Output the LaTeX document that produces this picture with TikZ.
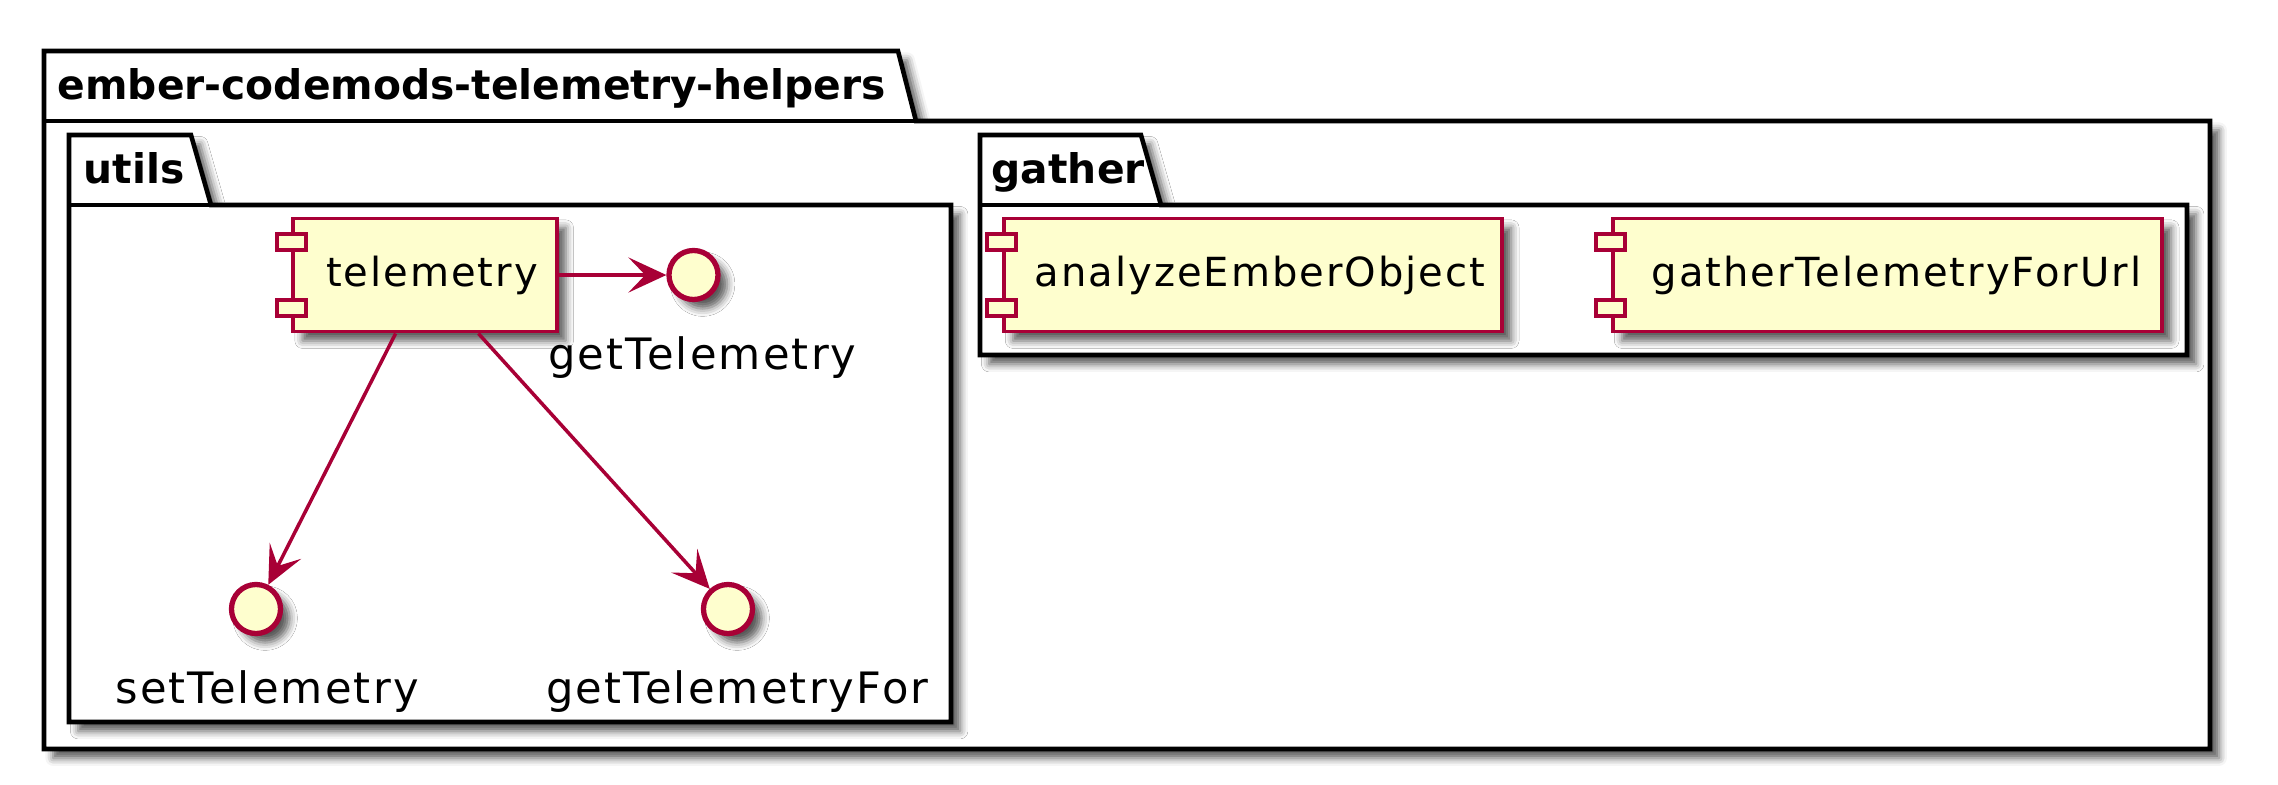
\documentclass[tikz,border=0pt]{standalone}
\usepackage{fontspec}
\setmainfont{DejaVu Sans}
\newfontfamily\uifont[LetterSpace=5]{DejaVu Sans}
\usetikzlibrary{arrows.meta,shadows.blur,calc}
\definecolor{umlred}{HTML}{A80036}
\definecolor{umlfill}{HTML}{FEFECE}
\tikzset{
  shd/.style={blur shadow={shadow xshift=2.6pt,shadow yshift=-2.6pt,shadow blur radius=2.2pt,shadow opacity=65}},
  pkg/.style={draw=black,line width=1.3pt,fill=white,shd,line join=miter},
  pkgline/.style={draw=black,line width=1.3pt},
  pkgtitle/.style={font=\bfseries\fontsize{11.6}{13}\selectfont,anchor=base west,inner sep=0pt},
  comp/.style={draw=umlred,fill=umlfill,line width=1.1pt,shd,minimum height=1.13cm,inner sep=0pt,font=\uifont\fontsize{11.4}{14}\selectfont},
  port/.style={draw=umlred,fill=umlfill,line width=1.1pt},
  iface/.style={circle,draw=umlred,fill=umlfill,line width=1.5pt,minimum size=0.49cm,inner sep=0pt,shd},
  ilabel/.style={font=\uifont\fontsize{12.3}{15}\selectfont,anchor=base,inner sep=0pt},
  dep/.style={draw=umlred,line width=1pt,-{Stealth[length=10.8pt,width=10pt,inset=4.8pt]}},
}
\begin{document}
\begin{tikzpicture}[x=0.01cm,y=-0.01cm]
\useasboundingbox (0,0) rectangle (2278,784);
% outer package
\path[pkg] (44,51) -- (898,51) -- (916,121) -- (2210,121) -- (2210,749) -- (44,749) -- cycle;
\draw[pkgline] (44,121) -- (916,121);
\node[pkgtitle] (outerT) at (57,99) {ember-codemods-telemetry-helpers};
% utils package
\path[pkg] (69,135) -- (191,135) -- (211,205) -- (951,205) -- (951,722) -- (69,722) -- cycle;
\draw[pkgline] (69,205) -- (211,205);
\node[pkgtitle] (utilsT) at (83,183) {utils};
% gather package
\path[pkg] (980,135) -- (1141,135) -- (1161,205) -- (2187,205) -- (2187,355) -- (980,355) -- cycle;
\draw[pkgline] (980,205) -- (1161,205);
\node[pkgtitle] (gatherT) at (991,183) {gather};
% components
\node[comp,minimum width=2.63cm] (tel) at (425,275) {\hspace*{0.14cm}telemetry};
\node[comp,minimum width=4.98cm] (ana) at (1253,275) {\hspace*{0.14cm}analyzeEmberObject};
\node[comp,minimum width=5.49cm] (gat) at (1887.5,275) {\hspace*{0.18cm}gatherTelemetryForUrl};
\foreach \c in {tel,ana,gat}{
  \draw[port] ($(\c.west)+(-14.5,-41)$) rectangle ($(\c.west)+(14.5,-25)$);
  \draw[port] ($(\c.west)+(-14.5,25)$) rectangle ($(\c.west)+(14.5,41)$);
}
% interfaces
\node[iface] (getT) at (693.5,275) {};
\node[iface] (setT) at (256,609) {};
\node[iface] (getTF) at (728,609) {};
\node[ilabel] (getTl) at (702.5,369.5) {getTelemetry};
\node[ilabel] (setTl) at (267,703) {setTelemetry};
\node[ilabel] (getTFl) at (737.5,703) {getTelemetryFor};
% connectors
\coordinate (t1) at ($(tel.south west)!0.39!(tel.south east)$);
\coordinate (t2) at ($(tel.south west)!0.70!(tel.south east)$);
\draw[dep] (tel.east) -- (getT);
\draw[dep] (t1) -- (setT);
\draw[dep] (t2) -- (getTF);
\end{tikzpicture}
\end{document}
